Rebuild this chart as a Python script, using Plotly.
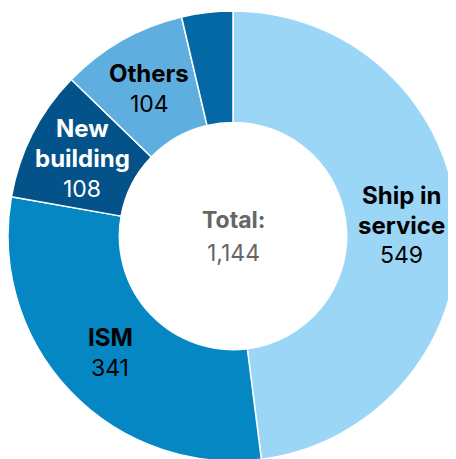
import math
import plotly.graph_objects as go

categories = ["Ship in service", "ISM", "New building", "Others", "Other (small)"]
values = [549, 341, 108, 104, 42]
label_lines = [["Ship in", "service"], ["ISM"], ["New", "building"], ["Others"], []]
colors = ["#9bd6f6", "#0587c4", "#03538a", "#5eaee0", "#0368a4"]
text_colors = ["#000000", "#000000", "#ffffff", "#000000", "#000000"]
total_label = "Total:"
total_value = "1,144"

W, H = 456, 459
HOLE = 0.505
DOM_X = [0.0, 450 / 456]
DOM_Y = [6 / 459, 456 / 459]
BOLD_SIZE = 24
VALUE_SIZE = 23
LINE_GAP = 30

fig = go.Figure(go.Pie(
    labels=categories,
    values=values,
    textinfo="none",
    hole=HOLE,
    sort=False,
    direction="clockwise",
    rotation=0,
    marker=dict(colors=colors, line=dict(color="white", width=1.5)),
    domain=dict(x=DOM_X, y=DOM_Y),
    showlegend=False,
))

# pie geometry in paper units; slice labels sit on the mid-ring bisector
cx = (DOM_X[0] + DOM_X[1]) / 2
cy = (DOM_Y[0] + DOM_Y[1]) / 2
R = min((DOM_X[1] - DOM_X[0]) * W, (DOM_Y[1] - DOM_Y[0]) * H) / 2
r_mid = R * (1 + HOLE) / 2
total = sum(values)
cum = 0
for c, v, lines, col in zip(categories, values, label_lines, text_colors):
    mid = (cum + v / 2) / total * 2 * math.pi
    cum += v
    if not lines:
        continue
    entries = [(f"<b>{ln}</b>", BOLD_SIZE) for ln in lines] + [(f"{v:,}", VALUE_SIZE)]
    n = len(entries)
    for i, (txt, sz) in enumerate(entries):
        fig.add_annotation(
            x=cx + r_mid * math.sin(mid) / W,
            y=cy + r_mid * math.cos(mid) / H,
            xref="paper", yref="paper", xanchor="center", yanchor="middle",
            text=txt, showarrow=False, yshift=((n - 1) / 2 - i) * LINE_GAP,
            font=dict(family="Inter", size=sz, color=col),
        )

fig.add_annotation(
    x=cx, y=cy, xref="paper", yref="paper", xanchor="center", yanchor="middle",
    text=f"<b>{total_label}</b>", showarrow=False, yshift=16,
    font=dict(family="Inter", size=VALUE_SIZE, color="#666666"),
)
fig.add_annotation(
    x=cx, y=cy, xref="paper", yref="paper", xanchor="center", yanchor="middle",
    text=total_value, showarrow=False, yshift=-17,
    font=dict(family="Inter", size=VALUE_SIZE, color="#666666"),
)

fig.update_layout(
    width=W, height=H,
    margin=dict(l=0, r=0, t=0, b=0),
    paper_bgcolor="white",
    plot_bgcolor="white",
    font=dict(family="Inter"),
)

fig.write_html("out.html")
